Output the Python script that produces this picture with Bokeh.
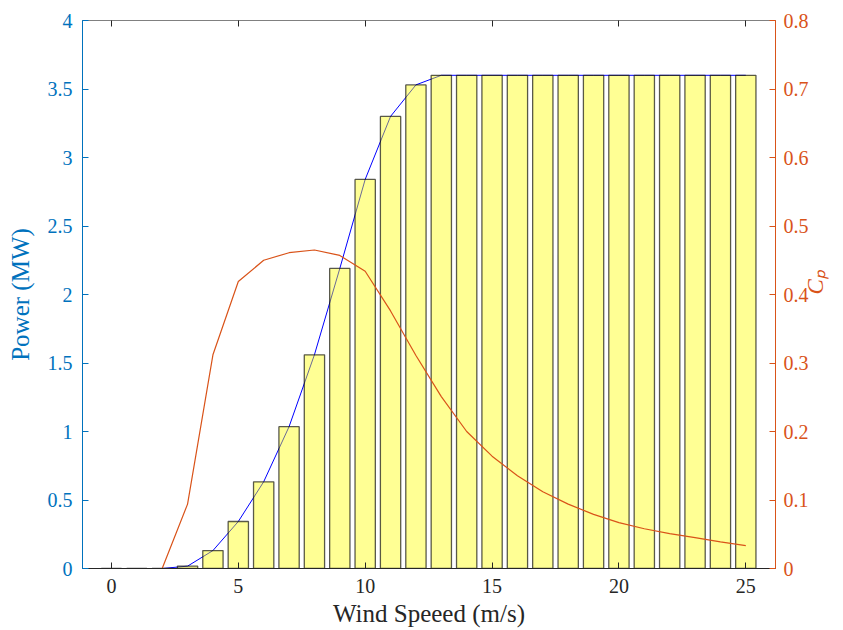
import math
from bokeh.plotting import figure
from bokeh.models import Range1d, LinearAxis, FixedTicker, CustomJSTickFormatter, ColumnDataSource
from bokeh.embed import file_html
from bokeh.resources import INLINE

# Data
wind_speed = list(range(0, 26))
power_mw = [0, 0, 0, 0.017, 0.131, 0.343, 0.633, 1.035, 1.56, 2.19, 2.84, 3.30, 3.53,
            3.6, 3.6, 3.6, 3.6, 3.6, 3.6, 3.6, 3.6, 3.6, 3.6, 3.6, 3.6, 3.6]
cp = [0, 0, 0, 0.094, 0.312, 0.419, 0.450, 0.461, 0.465, 0.457, 0.434, 0.376, 0.311,
      0.251, 0.200, 0.164, 0.1355, 0.112, 0.094, 0.079, 0.067, 0.058, 0.051, 0.045, 0.039, 0.0335]
x_ticks = [0, 5, 10, 15, 20, 25]
left_ticks = [0, 0.5, 1, 1.5, 2, 2.5, 3, 3.5, 4]
right_ticks = [0, 0.1, 0.2, 0.3, 0.4, 0.5, 0.6, 0.7, 0.8]

BLUE = "#0072BD"
ORANGE = "#D95319"
DARK = "#262626"
FONT = "Liberation Serif"

XMIN, XMAX = -1.14, 26.17
src = ColumnDataSource(dict(x=wind_speed, p=power_mw, cp=cp))

p = figure(width=843, height=630, output_backend="svg", toolbar_location=None,
           x_range=Range1d(XMIN, XMAX), y_range=Range1d(0, 4),
           min_border_left=82, min_border_right=68, min_border_top=20, min_border_bottom=62,
           x_axis_location=None, y_axis_location=None)
p.extra_y_ranges = {"cp": Range1d(0, 0.8)}
p.xgrid.visible = False
p.ygrid.visible = False
p.outline_line_color = "#808080"
p.outline_line_width = 1
p.background_fill_color = "white"
p.border_fill_color = "white"

fmt = CustomJSTickFormatter(code="return String(tick);")

def style(ax, color, ticks):
    ax.ticker = FixedTicker(ticks=ticks)
    ax.formatter = fmt
    ax.axis_line_color = color
    ax.major_tick_line_color = color
    ax.minor_tick_line_color = None
    ax.major_tick_in = 6
    ax.major_tick_out = 0
    ax.major_label_text_color = color
    ax.major_label_text_font = FONT
    ax.major_label_text_font_size = "20px"
    ax.major_label_text_font_style = "normal"
    ax.axis_label_text_color = color
    ax.axis_label_text_font = FONT
    ax.axis_label_text_font_size = "25px"
    ax.axis_label_text_font_style = "normal"

xa = LinearAxis(axis_label="Wind Speeed (m/s)")
style(xa, DARK, x_ticks)
xa.major_label_standoff = 10
xa.axis_label_standoff = 4
p.add_layout(xa, "below")

ya = LinearAxis(axis_label="Power (MW)")
style(ya, BLUE, left_ticks)
ya.major_label_standoff = 10
ya.axis_label_standoff = 11
p.add_layout(ya, "left")

yb = LinearAxis(y_range_name="cp", axis_label="Cₚ")
style(yb, ORANGE, right_ticks)
yb.major_label_standoff = 8
yb.axis_label_standoff = 4
yb.axis_label_text_font_size = "23px"
yb.axis_label_text_font_style = "italic"
yb.axis_label_orientation = math.pi / 2
p.add_layout(yb, "right")

xt = LinearAxis()
xt.ticker = FixedTicker(ticks=x_ticks)
xt.major_label_text_font_size = "1px"
xt.major_label_text_alpha = 0
xt.major_label_standoff = 0
xt.axis_line_color = "#808080"
xt.major_tick_line_color = DARK
xt.minor_tick_line_color = None
xt.major_tick_in = 6
xt.major_tick_out = 0
p.add_layout(xt, "above")

p.line("x", "p", source=src, line_color="#0000FF", line_width=1)
p.vbar(x="x", top="p", width=0.8, source=src, fill_color="#FFFF00", fill_alpha=0.42,
       line_color="#000000", line_alpha=0.65, line_width=1.3)
p.line("x", "cp", source=src, y_range_name="cp", line_color=ORANGE, line_width=1.2)

open("out.html", "w").write(file_html(p, INLINE))
